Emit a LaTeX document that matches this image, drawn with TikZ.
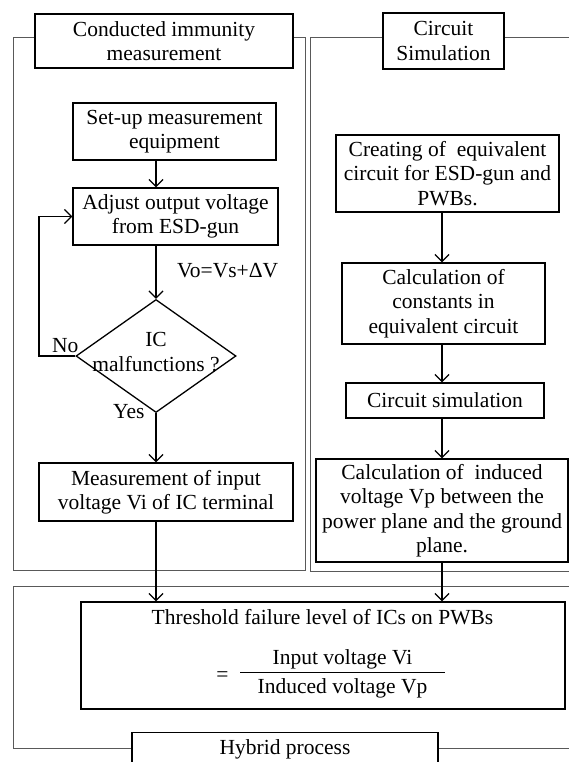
\documentclass[tikz,border=0pt]{standalone}
\usepackage{fontspec}
\setmainfont{Liberation Serif}
\usetikzlibrary{shapes.geometric,arrows.meta,calc}
\newcommand\fsz{\fontsize{21.5}{24.5}\selectfont}
\begin{document}
\begin{tikzpicture}[x=1pt,y=-1pt,
  box/.style={draw, line width=1.3pt, inner sep=0pt, align=center, font=\fsz},
  ttl/.style={box, fill=white},
  frm/.style={draw=black!65, line width=1pt},
  lbl/.style={inner sep=0pt, font=\fsz},
  arr/.style={line width=1.3pt, -{Straight Barb[length=7pt,width=14pt]}}]
\useasboundingbox (0,0) rectangle (569,762);
% frames
\draw[frm] (13,38) rectangle (305,570);
\draw[frm] (572,38) -- (310,38) -- (310,571) -- (572,571);
\draw[frm] (572,586) -- (13,586) -- (13,748) -- (572,748);
% titles
\node[ttl, minimum width=258pt, minimum height=54pt] (tL) at (164,41) {Conducted immunity\\measurement};
\node[ttl, minimum width=121pt, minimum height=56pt] (tR) at (443.5,41) {Circuit\\Simulation};
\node[ttl, minimum width=306pt, minimum height=34pt, anchor=north] (hyb) at (285,732) {Hybrid process};
% left column
\node[box, minimum width=203pt, minimum height=57pt] (setup) at (174.5,131.5) {Set-up measurement\\equipment};
\node[box, minimum width=205pt, minimum height=57pt] (adjust) at (175.5,216.5) {Adjust output voltage\\from ESD-gun};
\node[draw, diamond, line width=1.3pt, minimum width=160pt, minimum height=113pt, inner sep=0pt] (dia) at (156,356) {};
\node[lbl, align=center] (diat) at (156,352) {IC\\malfunctions ?};
\node[box, minimum width=254pt, minimum height=58pt] (meas) at (166,492) {Measurement of input\\voltage Vi of IC terminal};
\node[lbl, anchor=base west] (vo) at (177,277) {Vo=Vs+ΔV};
\node[lbl, anchor=base west] (no) at (52,352) {No};
\node[lbl, anchor=base west] (yes) at (113,418) {Yes};
\coordinate (lp) at (39,300);
% right column
\node[box, minimum width=223pt, minimum height=77pt] (create) at (447.5,173.5) {Creating of\ \ equivalent\\circuit for ESD-gun and\\PWBs.};
\node[box, minimum width=203pt, minimum height=81pt] (const) at (443.5,303.5) {Calculation of\\constants in\\equivalent circuit};
\node[box, minimum width=198pt, minimum height=35pt] (sim) at (445,400.5) {Circuit simulation};
\node[box, minimum width=252pt, minimum height=103pt] (ind) at (442,510.5) {Calculation of\ \ induced\\voltage Vp between the\\power plane and the ground\\plane.};
% result
\node[box, minimum width=484pt, minimum height=107pt] (thr) at (323,655.5) {};
\node[lbl, anchor=base] (thrt) at (322.5,624) {Threshold failure level of ICs on PWBs};
\node[lbl, anchor=base] (num) at (342.5,664) {Input voltage Vi};
\node[lbl, anchor=base] (den) at (342.5,693) {Induced voltage Vp};
\node[lbl] (eq) at (222.5,677) {=};
\draw[line width=1pt] (240,672) -- (445,672);
% arrows
\draw[arr] (setup.south -| dia.north) -- (adjust.north -| dia.north);
\draw[arr] (adjust.south -| dia.north) -- (dia.north);
\draw[arr] (dia.south) -- (meas.north -| dia.south);
\draw[arr] (meas.south -| dia.south) -- (thr.north -| dia.south);
\draw[arr] (dia.west) -| (lp) |- (adjust.west);
\draw[arr] (create.south -| ind.north) -- (const.north -| ind.north);
\draw[arr] (const.south -| ind.north) -- (sim.north -| ind.north);
\draw[arr] (sim.south -| ind.north) -- (ind.north);
\draw[arr] (ind.south) -- (thr.north -| ind.south);
\end{tikzpicture}
\end{document}
